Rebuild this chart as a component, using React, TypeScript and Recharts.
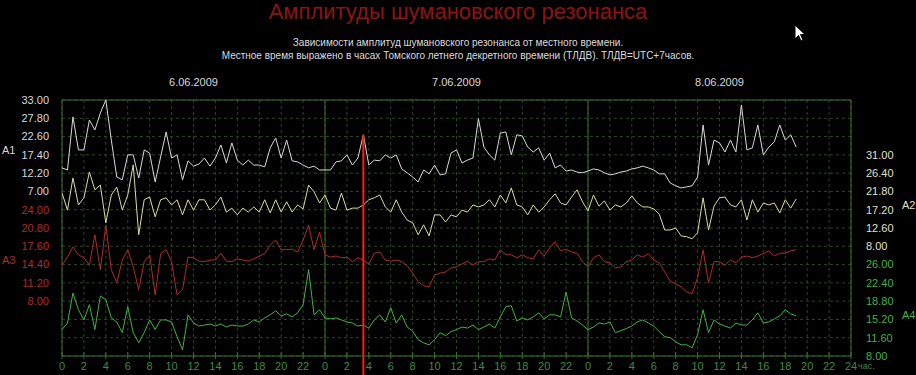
import React from "react";
import {
  LineChart,
  Line,
  XAxis,
  YAxis,
  CartesianGrid,
  ReferenceLine,
} from "recharts";

// hours between samples, starting at 0:00 of 6.06.2009
const STEP = 0.5;

const a1 = [
  13.7, 13.1, 28.2, 18.8, 18.8, 27.3, 24.5, 29.3, 33.0, 21.6,
  11.1, 10.3, 17.4, 17.4, 10.8, 18.8, 17.9, 9.7, 16.8, 23.9,
  16.5, 17.4, 10.3, 15.7, 14.2, 14.8, 16.5, 14.2, 16.5, 20.2,
  15.1, 20.8, 15.9, 14.5, 15.9, 14.5, 14.5, 14.0, 19.4, 22.2,
  16.5, 21.6, 15.7, 15.4, 14.5, 13.7, 14.2, 13.1, 13.1, 13.1,
  15.4, 15.7, 17.4, 14.5, 16.5, 23.1, 14.5, 15.9, 15.7, 17.4,
  16.5, 17.4, 13.4, 12.3, 11.1, 9.7, 13.1, 12.0, 14.5, 11.7,
  12.0, 17.9, 18.8, 15.1, 15.9, 16.5, 27.7, 19.6, 17.4, 15.9,
  23.6, 23.9, 17.4, 23.1, 22.8, 19.6, 18.2, 19.4, 15.9, 17.9,
  13.7, 14.5, 12.8, 13.1, 12.5, 12.3, 12.8, 13.4, 13.1, 12.3,
  11.7, 12.0, 12.5, 12.8, 13.4, 13.7, 14.2, 13.7, 13.1, 12.0,
  12.0, 9.4, 8.6, 8.0, 8.3, 8.6, 11.1, 25.9, 14.5, 21.6,
  20.8, 18.2, 21.6, 18.2, 31.6, 18.8, 19.4, 25.9, 17.4, 19.6,
  21.1, 25.9, 21.6, 23.1, 19.6,
];

const a2 = [
  21.4, 17.1, 25.2, 18.4, 20.2, 26.7, 22.2, 23.4, 13.9, 20.9,
  22.9, 17.1, 20.9, 28.5, 10.9, 19.7, 20.4, 15.4, 19.7, 20.2,
  18.4, 19.7, 15.9, 19.7, 17.1, 19.7, 19.7, 17.1, 18.4, 20.4,
  16.6, 17.6, 15.9, 17.6, 16.6, 17.9, 16.6, 19.7, 16.4, 19.7,
  16.6, 19.2, 16.6, 18.4, 17.4, 23.4, 21.7, 18.9, 20.9, 17.6,
  17.1, 21.4, 17.1, 17.6, 17.6, 18.4, 19.7, 20.2, 20.9, 17.9,
  16.6, 19.7, 16.6, 14.6, 13.9, 10.9, 13.4, 10.6, 15.9, 15.9,
  14.1, 15.9, 15.4, 17.1, 16.6, 18.4, 17.9, 18.4, 19.7, 17.9,
  20.9, 18.9, 22.7, 18.4, 17.9, 15.9, 18.4, 16.6, 17.9, 19.7,
  21.2, 18.9, 18.4, 20.4, 22.2, 19.2, 16.9, 20.9, 18.1, 19.4,
  17.1, 18.4, 17.9, 18.9, 20.7, 18.9, 17.9, 17.9, 17.4, 16.1,
  12.1, 12.1, 12.6, 10.6, 10.4, 9.9, 11.4, 20.2, 12.1, 18.1,
  20.2, 20.4, 18.4, 17.9, 19.7, 14.6, 19.7, 16.6, 18.9, 18.4,
  18.9, 16.4, 19.7, 17.6, 19.9,
];

const a3 = [
  14.3, 15.7, 17.5, 16.1, 15.6, 14.3, 19.6, 13.5, 21.3, 13.5,
  11.2, 15.2, 17.0, 14.0, 10.0, 14.9, 16.1, 9.1, 16.3, 17.0,
  14.9, 9.1, 10.0, 15.7, 15.6, 15.0, 14.9, 15.2, 15.2, 16.4,
  15.0, 14.9, 15.4, 15.2, 15.0, 15.4, 15.9, 16.3, 17.8, 18.7,
  17.0, 17.0, 17.1, 16.6, 18.7, 21.3, 17.0, 20.1, 16.1, 15.7,
  15.9, 15.6, 15.7, 14.9, 15.6, 15.2, 14.5, 16.4, 16.6, 15.2,
  15.0, 15.2, 14.9, 14.2, 12.9, 11.4, 10.7, 10.5, 12.6, 12.9,
  13.1, 13.8, 14.0, 14.5, 15.0, 14.3, 14.9, 14.9, 15.4, 15.2,
  17.0, 16.1, 16.1, 15.6, 16.1, 15.6, 15.4, 17.0, 15.9, 17.3,
  18.4, 16.8, 17.1, 16.6, 16.4, 14.9, 14.0, 15.6, 16.1, 14.9,
  14.7, 13.8, 14.0, 14.9, 15.2, 16.1, 15.7, 16.3, 15.2, 14.7,
  13.1, 11.5, 11.0, 10.5, 9.6, 9.3, 12.1, 17.0, 11.2, 14.9,
  14.9, 14.3, 15.2, 14.7, 15.7, 15.9, 15.6, 15.9, 16.3, 16.8,
  15.9, 16.4, 16.4, 16.8, 17.0,
];

const a4 = [
  13.2, 14.5, 20.4, 17.1, 15.1, 18.1, 13.2, 19.8, 19.1, 15.5,
  14.7, 12.6, 17.7, 12.6, 10.6, 12.6, 15.1, 13.2, 15.1, 15.1,
  14.7, 11.8, 9.2, 16.1, 14.5, 13.9, 14.1, 14.3, 13.9, 14.3,
  13.7, 14.1, 13.9, 13.9, 14.3, 15.1, 14.7, 15.5, 16.1, 16.9,
  15.9, 16.3, 15.7, 16.5, 18.1, 25.0, 16.1, 17.1, 15.5, 15.3,
  15.5, 15.1, 14.7, 14.5, 13.9, 14.1, 13.5, 15.1, 16.1, 14.7,
  17.5, 14.5, 16.1, 13.7, 12.9, 11.2, 10.6, 10.2, 11.2, 12.6,
  12.0, 12.8, 13.2, 13.7, 13.5, 14.1, 13.2, 13.7, 14.3, 13.5,
  15.7, 17.7, 17.9, 14.9, 15.5, 15.1, 15.7, 16.5, 15.3, 16.1,
  16.1, 15.7, 20.6, 15.5, 14.9, 14.1, 13.2, 13.7, 14.5, 14.3,
  14.7, 12.6, 13.0, 13.4, 13.9, 14.7, 15.1, 14.5, 13.9, 12.8,
  11.8, 11.6, 10.8, 10.2, 10.2, 9.6, 12.2, 17.1, 12.6, 15.1,
  14.3, 13.9, 13.5, 14.5, 14.1, 14.1, 15.1, 16.5, 14.5, 14.7,
  15.3, 15.9, 17.1, 16.3, 15.9,
];

// tick labels of each band, top to bottom
const a1Ticks = [33.0, 27.8, 22.6, 17.4, 12.2, 7.0];
const a2Ticks = [31.0, 26.4, 21.8, 17.2, 12.6, 8.0];
const a3Ticks = [24.0, 20.8, 17.6, 14.4, 11.2, 8.0];
const a4Ticks = [26.0, 22.4, 18.8, 15.2, 11.6, 8.0];

const dayLabels = ["6.06.2009", "7.06.2009", "8.06.2009"];
const markerHour = 27.5;

const ROWS = 14;
const hourTicks = Array.from({ length: 37 }, (_, i) => i * 2);

// each band covers 5 grid rows, starting at firstRow
function bandDomain(ticks: number[], firstRow: number) {
  const step = ticks[0] - ticks[1];
  const top = ticks[0] + firstRow * step;
  return [top - ROWS * step, top];
}
const d1 = bandDomain(a1Ticks, 0);
const d2 = bandDomain(a2Ticks, 3);
const d3 = bandDomain(a3Ticks, 6);
const d4 = bandDomain(a4Ticks, 9);

// one tick per grid row, expressed in the A1 (left) and A2 (right) units
const step1 = a1Ticks[0] - a1Ticks[1];
const step2 = a2Ticks[0] - a2Ticks[1];
const leftRowTicks = Array.from({ length: ROWS + 1 }, (_, r) => d1[1] - r * step1);
const rightRowTicks = Array.from({ length: ROWS + 1 }, (_, r) => d2[1] - r * step2);

const data = a1.map((v, i) => ({
  t: i * STEP,
  a1: v,
  a2: a2[i],
  a3: a3[i],
  a4: a4[i],
}));

const FONT = '"Liberation Sans Narrow", "Liberation Sans", Arial, sans-serif';
const GREEN = "#3b6e2e";
const GRID = "#2a4626";

const C1 = "#d9d9d9";
const C2 = "#dcdc9c";
const C3 = "#b3282a";
const C4 = "#3fb53f";

function LeftTick(props: any) {
  const { x, y, payload } = props;
  const r = Math.round((d1[1] - payload.value) / step1);
  let label = "";
  let fill = C1;
  if (r <= 5) label = a1Ticks[r].toFixed(2);
  else if (r <= 11) {
    label = a3Ticks[r - 6].toFixed(2);
    fill = C3;
  }
  return (
    <text x={x} y={y} dy="0.35em" textAnchor="end" fill={fill} fontSize={11} fontFamily={FONT}>
      {label}
    </text>
  );
}

function RightTick(props: any) {
  const { x, y, payload } = props;
  const r = Math.round((d2[1] - payload.value) / step2);
  let label = "";
  let fill = "#e0e0c8";
  if (r >= 3 && r <= 8) label = a2Ticks[r - 3].toFixed(2);
  else if (r >= 9) {
    label = a4Ticks[r - 9].toFixed(2);
    fill = C4;
  }
  return (
    <text x={x} y={y} dy="0.35em" textAnchor="start" fill={fill} fontSize={11} fontFamily={FONT}>
      {label}
    </text>
  );
}

function HourTick(props: any) {
  const { x, y, payload } = props;
  const v = payload.value;
  const axisY = y - 6;
  return (
    <g>
      <line x1={x} x2={x} y1={axisY - 4} y2={axisY + 3} stroke={GREEN} />
      <text x={x} y={y} dy="0.71em" textAnchor="middle" fill="#3f8a3f" fontSize={11} fontFamily={FONT}>
        {v === 72 ? "24" : String(v % 24)}
      </text>
      {v === 72 && (
        <text x={x + 7} y={y + 1} dy="0.71em" textAnchor="start" fill="#3f8a3f" fontSize={9} fontFamily={FONT}>
          час.
        </text>
      )}
    </g>
  );
}

function DayTick(props: any) {
  const { x, y, payload } = props;
  return (
    <text x={x} y={y} textAnchor="middle" fill="#d8d8d8" fontSize={11} fontFamily={FONT}>
      {dayLabels[Math.round((payload.value - 12) / 24)]}
    </text>
  );
}

const abs = (left: number, top: number, color: string, size: number): React.CSSProperties => ({
  position: "absolute",
  left,
  top,
  color,
  fontSize: size,
  fontFamily: FONT,
  lineHeight: 1,
  whiteSpace: "nowrap",
});

export default function App() {
  return (
    <div
      style={{
        position: "absolute",
        left: 0,
        top: 0,
        width: 916,
        height: 375,
        background: "#000",
        overflow: "hidden",
      }}>
      <LineChart
        width={916}
        height={375}
        data={data}
        margin={{ top: 70, right: 0, bottom: 0, left: 0 }}>
        <CartesianGrid
          xAxisId="h"
          yAxisId="a1"
          stroke={GRID}
          strokeDasharray="3 3"
        />
        <XAxis
          xAxisId="h"
          dataKey="t"
          type="number"
          domain={[0, 72]}
          allowDataOverflow
          ticks={hourTicks}
          interval={0}
          height={19}
          tickSize={0}
          tickMargin={6}
          tickLine={false}
          axisLine={{ stroke: GREEN }}
          tick={<HourTick />}
        />
        <XAxis
          xAxisId="d"
          dataKey="t"
          orientation="top"
          type="number"
          domain={[0, 72]}
          allowDataOverflow
          ticks={[12, 36, 60]}
          interval={0}
          height={30}
          tickSize={0}
          tickMargin={14}
          axisLine={false}
          tickLine={false}
          tick={<DayTick />}
        />
        <YAxis
          yAxisId="a1"
          type="number"
          domain={d1}
          allowDataOverflow
          ticks={leftRowTicks}
          interval={0}
          width={62}
          tickSize={0}
          tickMargin={13}
          axisLine={false}
          tickLine={false}
          tick={<LeftTick />}
        />
        <YAxis
          yAxisId="a2"
          orientation="right"
          type="number"
          domain={d2}
          allowDataOverflow
          ticks={rightRowTicks}
          interval={0}
          width={65}
          tickSize={0}
          tickMargin={15}
          axisLine={false}
          tickLine={false}
          tick={<RightTick />}
        />
        <YAxis yAxisId="a3" hide type="number" domain={d3} allowDataOverflow />
        <YAxis yAxisId="a4" hide type="number" domain={d4} allowDataOverflow />

        {[0, 24, 48, 72].map((h) => (
          <ReferenceLine key={h} xAxisId="h" yAxisId="a1" x={h} stroke={GREEN} />
        ))}
        <ReferenceLine xAxisId="h" yAxisId="a1" y={d1[1]} stroke={GREEN} />

        <Line xAxisId="h" yAxisId="a4" dataKey="a4" stroke={C4} strokeWidth={1} dot={false} type="linear" isAnimationActive={false} />
        <Line xAxisId="h" yAxisId="a3" dataKey="a3" stroke={C3} strokeWidth={1} dot={false} type="linear" isAnimationActive={false} />
        <Line xAxisId="h" yAxisId="a2" dataKey="a2" stroke={C2} strokeWidth={1} dot={false} type="linear" isAnimationActive={false} />
        <Line xAxisId="h" yAxisId="a1" dataKey="a1" stroke={C1} strokeWidth={1} dot={false} type="linear" isAnimationActive={false} />

        <ReferenceLine
          xAxisId="h"
          yAxisId="a1"
          ifOverflow="visible"
          segment={[
            { x: markerHour, y: a1[markerHour / STEP] },
            { x: markerHour, y: -46 },
          ]}
          stroke="#ff1a1a"
          strokeWidth={2}
        />
      </LineChart>

      <div style={{ ...abs(0, 1, "#8c1414", 22), width: 916, textAlign: "center" }}>
        Амплитуды шумановского резонанса
      </div>
      <div style={{ ...abs(0, 36, "#dcdcdc", 10), width: 916, textAlign: "center", lineHeight: "13px" }}>
        Зависимости амплитуд шумановского резонанса от местного времени.
        <br />
        Местное время выражено в часах Томского летнего декретного времени (ТЛДВ). ТЛДВ=UTC+7часов.
      </div>

      <div style={abs(2, 145, C1, 11)}>A1</div>
      <div style={abs(2, 255, C3, 11)}>A3</div>
      <div style={abs(902, 200, "#e0e0c8", 11)}>A2</div>
      <div style={abs(902, 310, C4, 11)}>A4</div>

      <svg width={12} height={18} style={{ position: "absolute", left: 794, top: 24 }}>
        <polygon points="1,1 1,15 4.5,11.5 7,17 9,16 6.5,10.5 11,10.5" fill="#fff" stroke="#000" strokeWidth={1} />
      </svg>
    </div>
  );
}
